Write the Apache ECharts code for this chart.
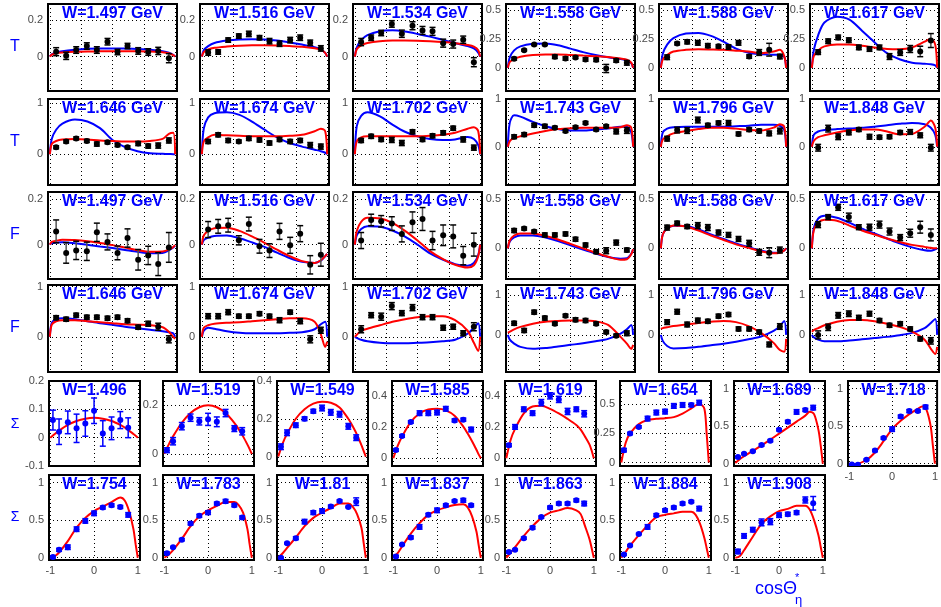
<!DOCTYPE html>
<html><head><meta charset="utf-8">
<script src="https://cdn.jsdelivr.net/npm/echarts@6/dist/echarts.min.js"></script>
<style>html,body{margin:0;padding:0;background:#fff}#c{width:941px;height:607px}</style>
</head><body><div id="c"></div>
<script>
// ---------------- DATA ----------------
const tfX = [-0.9,-0.74,-0.58,-0.41,-0.25,-0.08,0.08,0.24,0.41,0.57,0.73,0.9];
const tfCurveX = [-1,-0.97,-0.9,-0.8,-0.6,-0.4,-0.2,0,0.2,0.4,0.6,0.8,0.9,0.97,1];
const sigX = [-0.94,-0.8,-0.6,-0.4,-0.2,0,0.2,0.4,0.6,0.78];
const sigCurveX = [-1,-0.9,-0.8,-0.6,-0.4,-0.2,0,0.2,0.4,0.6,0.7,0.8,0.9,0.95,1];
const tfTickX = [-1,-0.5,0,0.5,1];
const sigTickX = [-1,0,1];
const rowNames = ['T','T','F','F','Σ','Σ'];
const wRowA = ['1.497','1.516','1.534','1.558','1.588','1.617'];
const wRowB = ['1.646','1.674','1.702','1.743','1.796','1.848'];
const sigW = ['1.496','1.519','1.549','1.585','1.619','1.654','1.689','1.718','1.754','1.783','1.81','1.837','1.863','1.884','1.908'];

// T, row 1
const T1497_pts = [0.027,0.004,0.036,0.058,0.036,0.082,0.025,0.058,0.031,0.025,0.031,-0.009];
const T1497_err = [0.022,0.02,0.018,0.018,0.018,0.018,0.015,0.015,0.018,0.018,0.02,0.025];
const T1497_blue = [0,0.012,0.022,0.03,0.038,0.043,0.045,0.045,0.044,0.042,0.038,0.03,0.022,0.01,0];
const T1497_red = [0,0.01,0.018,0.022,0.026,0.028,0.029,0.03,0.03,0.03,0.028,0.024,0.018,0.008,0];
const T1516_pts = [0.022,0.025,0.091,0.113,0.125,0.104,0.085,0.071,0.091,0.104,0.076,0.045];
const T1516_err = [0.015,0.012,0.012,0.012,0.015,0.012,0.015,0.015,0.015,0.015,0.015,0.015];
const T1516_blue = [0,0.035,0.058,0.075,0.088,0.094,0.096,0.094,0.088,0.078,0.066,0.052,0.04,0.02,0];
const T1516_red = [0,0.025,0.04,0.048,0.055,0.06,0.062,0.062,0.061,0.058,0.054,0.046,0.038,0.02,0];
const T1534_pts = [0.08,0.104,0.13,0.18,0.126,0.17,0.144,0.139,0.074,0.069,0.093,-0.031];
const T1534_err = [0.02,0.015,0.015,0.018,0.02,0.022,0.022,0.022,0.022,0.022,0.02,0.025];
const T1534_blue = [0,0.05,0.09,0.118,0.14,0.145,0.138,0.125,0.11,0.092,0.075,0.058,0.045,0.022,0];
const T1534_red = [0,0.04,0.062,0.075,0.085,0.088,0.088,0.087,0.084,0.08,0.074,0.064,0.055,0.035,0];
const T1558_pts = [0.078,0.152,0.2,0.2,0.095,0.08,0.089,0.072,0.069,-0.006,0.063,0.043];
const T1558_err = [0.012,0.008,0.008,0.008,0.015,0.015,0.01,0.015,0.015,0.035,0.015,0.02];
const T1558_blue = [0,0.09,0.15,0.185,0.207,0.21,0.195,0.165,0.135,0.11,0.09,0.075,0.065,0.04,0];
const T1558_red = [0,0.05,0.075,0.095,0.11,0.115,0.115,0.11,0.105,0.1,0.093,0.08,0.07,0.045,0];
const T1588_pts = [0.091,0.209,0.224,0.215,0.191,0.185,0.179,0.215,0.097,0.132,0.156,0.097];
const T1588_err = [0.02,0.012,0.018,0.02,0.018,0.015,0.02,0.02,0.015,0.025,0.055,0.02];
const T1588_blue = [0,0.12,0.2,0.255,0.295,0.3,0.275,0.225,0.165,0.13,0.118,0.112,0.11,0.095,0];
const T1588_red = [0,0.07,0.11,0.14,0.155,0.16,0.158,0.155,0.148,0.14,0.125,0.14,0.155,0.1,0];
const T1617_pts = [0.135,0.229,0.262,0.238,0.176,0.162,0.176,0.097,0.132,0.162,0.141,0.235];
const T1617_err = [0.02,0.02,0.02,0.02,0.02,0.02,0.02,0.025,0.025,0.03,0.045,0.06];
const T1617_blue = [0,0.15,0.28,0.39,0.44,0.415,0.32,0.22,0.126,0.074,0.044,0.035,0.03,0.02,0];
const T1617_red = [0,0.1,0.15,0.185,0.2,0.2,0.19,0.175,0.163,0.16,0.175,0.225,0.25,0.2,0];
// T, row 2
const T1646_pts = [0.137,0.25,0.31,0.26,0.2,0.235,0.18,0.137,0.21,0.16,0.17,0.27];
const T1646_err = [0.03,0.03,0.03,0.03,0.04,0.03,0.03,0.03,0.04,0.04,0.05,0.05];
const T1646_blue = [0,0.3,0.48,0.6,0.68,0.64,0.51,0.28,0.14,0.06,0.02,0.01,0.005,0.003,0];
const T1646_red = [0,0.2,0.26,0.29,0.3,0.29,0.27,0.26,0.25,0.25,0.26,0.3,0.4,0.42,0];
const T1674_pts = [0.25,0.38,0.27,0.25,0.31,0.28,0.22,0.29,0.25,0.27,0.18,0.15];
const T1674_err = [0.04,0.04,0.04,0.03,0.04,0.04,0.04,0.04,0.04,0.04,0.05,0.05];
const T1674_blue = [0,0.5,0.72,0.8,0.82,0.77,0.64,0.48,0.33,0.22,0.15,0.09,0.06,0.03,0];
const T1674_red = [0,0.25,0.33,0.38,0.37,0.36,0.35,0.35,0.35,0.36,0.38,0.45,0.5,0.45,0];
const T1702_pts = [0.27,0.35,0.29,0.28,0.22,0.44,0.29,0.36,0.42,0.51,0.29,0.13];
const T1702_err = [0.04,0.04,0.04,0.05,0.05,0.04,0.04,0.04,0.04,0.04,0.05,0.05];
const T1702_blue = [0,0.55,0.75,0.82,0.74,0.58,0.44,0.35,0.3,0.28,0.29,0.34,0.3,0.18,0];
const T1702_red = [0,0.25,0.33,0.35,0.35,0.35,0.35,0.35,0.36,0.38,0.42,0.5,0.53,0.45,0];
const T1743_pts = [0.21,0.255,0.45,0.43,0.4,0.33,0.41,0.5,0.36,0.43,0.32,0.34];
const T1743_err = [0.04,0.04,0.04,0.04,0.03,0.03,0.03,0.03,0.03,0.03,0.05,0.06];
const T1743_blue = [0,0.5,0.66,0.63,0.52,0.43,0.37,0.34,0.34,0.36,0.38,0.42,0.42,0.3,0];
const T1743_red = [0,0.12,0.18,0.22,0.28,0.33,0.37,0.39,0.4,0.4,0.4,0.41,0.45,0.4,0];
const T1796_pts = [0.17,0.35,0.34,0.56,0.45,0.5,0.5,0.27,0.36,0.33,0.28,0.33];
const T1796_err = [0.05,0.06,0.06,0.06,0.04,0.04,0.05,0.04,0.04,0.04,0.05,0.06];
const T1796_blue = [0,0.3,0.38,0.41,0.42,0.42,0.42,0.42,0.43,0.44,0.46,0.46,0.44,0.35,0];
const T1796_red = [0,0.15,0.22,0.28,0.33,0.37,0.4,0.4,0.38,0.35,0.34,0.4,0.47,0.42,0];
const T1848_pts = [-0.02,0.38,0.21,0.3,0.36,0.21,0.2,0.21,0.3,0.31,0.24,-0.02];
const T1848_err = [0.07,0.07,0.06,0.05,0.04,0.05,0.04,0.04,0.04,0.05,0.05,0.07];
const T1848_blue = [0,0.25,0.32,0.35,0.37,0.38,0.4,0.42,0.45,0.48,0.5,0.47,0.4,0.25,0];
const T1848_red = [0,0.12,0.2,0.24,0.3,0.34,0.36,0.36,0.32,0.26,0.27,0.42,0.55,0.4,0];
// F, row 3
const F1497_pts = [0.058,-0.036,-0.025,-0.029,0.054,0.012,-0.036,0.029,-0.066,-0.047,-0.085,-0.012];
const F1497_err = [0.05,0.045,0.04,0.04,0.04,0.035,0.03,0.04,0.045,0.04,0.05,0.065];
const F1497_blue = [0,0.007,0.009,0.01,0.006,0,-0.008,-0.015,-0.023,-0.031,-0.037,-0.036,-0.025,-0.012,-0.005];
const F1497_red = [0,0.012,0.017,0.021,0.02,0.015,0.007,-0.002,-0.013,-0.024,-0.031,-0.03,-0.022,-0.01,-0.003];
const F1516_pts = [0.066,0.08,0.085,0.019,0.09,-0.007,-0.026,0.058,-0.003,0.048,-0.088,-0.044];
const F1516_err = [0.035,0.03,0.03,0.02,0.03,0.03,0.03,0.035,0.035,0.035,0.04,0.05];
const F1516_blue = [0,0.02,0.03,0.038,0.04,0.028,0.01,-0.01,-0.035,-0.058,-0.075,-0.08,-0.07,-0.05,-0.04];
const F1516_red = [0,0.04,0.06,0.072,0.074,0.06,0.036,0.008,-0.022,-0.05,-0.072,-0.08,-0.068,-0.05,-0.04];
const F1534_pts = [0.018,0.108,0.102,0.092,0.047,0.098,0.112,0.018,0.041,0.036,-0.048,0];
const F1534_err = [0.035,0.025,0.025,0.03,0.035,0.045,0.05,0.04,0.045,0.05,0.04,0.05];
const F1534_blue = [0,0.04,0.068,0.08,0.078,0.062,0.035,0,-0.038,-0.065,-0.085,-0.092,-0.08,-0.045,0];
const F1534_red = [0,0.06,0.1,0.118,0.115,0.095,0.06,0.018,-0.028,-0.062,-0.088,-0.1,-0.09,-0.05,0];
const F1558_pts = [0.18,0.2,0.17,0.136,0.136,0.146,0.092,0.034,-0.034,-0.024,0.058,-0.017];
const F1558_err = [0.02,0.015,0.015,0.02,0.02,0.02,0.02,0.02,0.02,0.03,0.025,0.02];
const F1558_blue = [0,0.07,0.11,0.13,0.13,0.11,0.075,0.03,-0.012,-0.052,-0.088,-0.105,-0.1,-0.055,-0.01];
const F1558_red = [0,0.08,0.13,0.15,0.15,0.125,0.09,0.045,0,-0.045,-0.085,-0.115,-0.11,-0.06,-0.01];
const F1588_pts = [0.21,0.255,0.22,0.23,0.21,0.16,0.136,0.095,0.051,-0.04,-0.044,-0.017];
const F1588_err = [0.025,0.02,0.02,0.03,0.03,0.025,0.025,0.025,0.03,0.03,0.05,0.03];
const F1588_blue = [0,0.14,0.2,0.228,0.225,0.19,0.14,0.095,0.05,0.012,-0.025,-0.045,-0.042,-0.02,0];
const F1588_red = [0,0.14,0.2,0.23,0.22,0.18,0.13,0.085,0.04,0.005,-0.03,-0.05,-0.045,-0.02,0];
const F1617_pts = [0.24,0.316,0.415,0.316,0.214,0.214,0.24,0.17,0.109,0.153,0.214,0.136];
const F1617_err = [0.03,0.025,0.03,0.04,0.025,0.03,0.035,0.035,0.03,0.04,0.06,0.06];
const F1617_blue = [0,0.2,0.3,0.33,0.31,0.26,0.2,0.15,0.1,0.05,0.01,-0.02,-0.025,-0.01,0];
const F1617_red = [0,0.18,0.26,0.29,0.28,0.23,0.18,0.14,0.1,0.065,0.035,0.015,0.005,0,0];
// F, row 4
const F1646_pts = [0.38,0.35,0.43,0.39,0.39,0.37,0.39,0.32,0.19,0.26,0.2,-0.05];
const F1646_err = [0.04,0.04,0.04,0.04,0.04,0.04,0.04,0.04,0.04,0.05,0.07,0.07];
const F1646_blue = [0,0.28,0.35,0.37,0.35,0.31,0.27,0.24,0.2,0.17,0.14,0.11,0.09,0.07,0];
const F1646_red = [0,0.24,0.31,0.33,0.33,0.31,0.29,0.27,0.25,0.24,0.23,0.19,0.1,0,-0.04];
const F1674_pts = [0.41,0.41,0.49,0.41,0.41,0.46,0.41,0.33,0.49,0.31,-0.05,0.13];
const F1674_err = [0.05,0.05,0.05,0.04,0.04,0.04,0.04,0.05,0.04,0.05,0.07,0.06];
const F1674_blue = [0,0.12,0.18,0.16,0.11,0.08,0.07,0.07,0.07,0.08,0.09,0.15,0.25,0.3,0];
const F1674_red = [0,0.18,0.23,0.26,0.28,0.29,0.31,0.33,0.35,0.37,0.37,0.3,0.05,-0.2,-0.1];
const F1702_pts = [0.15,0.43,0.4,0.61,0.47,0.58,0.39,0.39,0.18,0.2,0.07,0.2];
const F1702_err = [0.07,0.05,0.07,0.07,0.05,0.06,0.05,0.05,0.05,0.05,0.05,0.08];
const F1702_blue = [0,-0.02,-0.06,-0.09,-0.12,-0.13,-0.13,-0.12,-0.11,-0.09,-0.06,0.06,0.18,0.27,0];
const F1702_red = [0,0.04,0.12,0.16,0.23,0.3,0.35,0.39,0.41,0.41,0.33,0.12,-0.12,-0.28,0];
const F1743_pts = [0.29,0.11,0.57,0.42,0.28,0.48,0.38,0.36,0.28,0.07,-0.02,0.04];
const F1743_err = [0.05,0.05,0.05,0.05,0.04,0.04,0.05,0.05,0.04,0.04,0.04,0.06];
const F1743_blue = [0,-0.12,-0.22,-0.3,-0.35,-0.33,-0.29,-0.25,-0.21,-0.16,-0.1,0.03,0.14,0.25,0];
const F1743_red = [0.05,0.08,0.14,0.2,0.28,0.33,0.35,0.36,0.36,0.34,0.25,-0.05,-0.22,-0.35,-0.25];
const F1796_pts = [0.32,0.58,0.26,0.36,0.34,0.47,0.51,0.15,0.15,0.07,-0.24,0.21];
const F1796_err = [0.06,0.06,0.06,0.06,0.05,0.05,0.05,0.05,0.05,0.05,0.06,0.07];
const F1796_blue = [0,-0.15,-0.28,-0.34,-0.33,-0.3,-0.26,-0.22,-0.17,-0.11,-0.04,0.1,0.22,0.35,0];
const F1796_red = [0.15,0.17,0.19,0.22,0.26,0.3,0.33,0.35,0.32,0.22,0.05,-0.2,-0.38,-0.42,-0.1];
const F1848_pts = [0,0.19,0.49,0.53,0.43,0.53,0.36,0.24,0.28,0.15,-0.1,-0.15];
const F1848_err = [0.1,0.08,0.07,0.07,0.06,0.06,0.05,0.05,0.05,0.05,0.05,0.08];
const F1848_blue = [0,-0.06,-0.12,-0.16,-0.16,-0.14,-0.11,-0.08,-0.05,-0.01,0.05,0.17,0.3,0.4,0];
const F1848_red = [0.08,0.12,0.17,0.24,0.33,0.37,0.37,0.34,0.28,0.2,0.08,-0.12,-0.35,-0.48,-0.3];
// Sigma
const S1496_pts = [0.062,0.021,0.054,0.033,0.05,0.095,0.015,0.033,0.062,0.035];
const S1496_err = [0.035,0.045,0.04,0.05,0.045,0.045,0.045,0.04,0.03,0.035];
const S1496_red = [0,0.013,0.025,0.045,0.059,0.067,0.07,0.067,0.059,0.045,0.036,0.025,0.013,0.007,0];
const S1519_pts = [0.015,0.052,0.114,0.149,0.134,0.142,0.132,0.168,0.104,0.093];
const S1519_err = [0.01,0.015,0.015,0.015,0.015,0.025,0.02,0.015,0.012,0.015];
const S1519_red = [0,0.038,0.072,0.128,0.168,0.192,0.2,0.192,0.168,0.128,0.102,0.072,0.038,0.0195,0];
const S1549_pts = [0.052,0.126,0.166,0.2,0.24,0.257,0.234,0.224,0.16,0.1];
const S1549_err = [0.015,0.015,0.012,0.01,0.01,0.015,0.015,0.015,0.015,0.015];
const S1549_red = [0,0.07,0.12,0.2,0.25,0.28,0.29,0.285,0.26,0.2,0.16,0.115,0.06,0.03,0];
const S1585_pts = [0.053,0.144,0.235,0.292,0.292,0.296,0.32,0.245,0.25,0.186];
const S1585_err = [0.008,0.008,0.008,0.015,0.015,0.015,0.015,0.01,0.01,0.015];
const S1585_red = [0,0.08,0.14,0.235,0.29,0.315,0.32,0.31,0.275,0.205,0.16,0.11,0.055,0.025,0];
const S1619_pts = [0.085,0.203,0.317,0.292,0.36,0.404,0.381,0.303,0.317,0.288];
const S1619_err = [0.01,0.015,0.015,0.015,0.02,0.02,0.02,0.02,0.015,0.02];
const S1619_red = [0,0.12,0.19,0.29,0.335,0.34,0.32,0.29,0.255,0.215,0.185,0.14,0.09,0.05,0];
const S1654_pts = [0.106,0.249,0.306,0.377,0.429,0.437,0.486,0.494,0.494,0.514];
const S1654_err = [0.015,0.01,0.01,0.02,0.02,0.02,0.02,0.02,0.015,0.02];
const S1654_red = [0,0.17,0.25,0.33,0.365,0.375,0.38,0.39,0.42,0.465,0.49,0.5,0.46,0.25,0];
const S1689_pts = [0.088,0.132,0.167,0.25,0.307,0.452,0.557,0.689,0.715,0.746];
const S1689_err = [0.01,0.01,0.01,0.015,0.015,0.015,0.02,0.03,0.02,0.03];
const S1689_red = [0.01,0.06,0.1,0.17,0.245,0.32,0.4,0.48,0.56,0.64,0.69,0.66,0.45,0.25,0];
const S1718_pts = [-0.01,-0.013,0.053,0.175,0.342,0.46,0.627,0.7,0.7,0.754];
const S1718_err = [0.01,0.01,0.01,0.015,0.015,0.03,0.02,0.02,0.015,0.025];
const S1718_red = [0,-0.01,0,0.05,0.15,0.3,0.46,0.57,0.66,0.73,0.76,0.72,0.5,0.25,0];
const S1754_pts = [0.01,0.105,0.14,0.38,0.49,0.59,0.667,0.697,0.675,0.57];
const S1754_err = [0.015,0.02,0.03,0.03,0.03,0.03,0.02,0.02,0.02,0.03];
const S1754_red = [0,0.02,0.07,0.22,0.4,0.53,0.62,0.68,0.74,0.8,0.76,0.62,0.38,0.18,0];
const S1783_pts = [0.061,0.14,0.24,0.456,0.557,0.6,0.72,0.75,0.697,0.535];
const S1783_err = [0.015,0.01,0.015,0.02,0.02,0.025,0.02,0.025,0.02,0.02];
const S1783_red = [0,0.04,0.1,0.25,0.42,0.55,0.63,0.69,0.74,0.74,0.7,0.6,0.38,0.18,0];
const S1810_pts = [0,0.193,0.26,0.48,0.6,0.62,0.68,0.754,0.675,0.746];
const S1810_err = [0.01,0.01,0.02,0.03,0.025,0.03,0.02,0.015,0.01,0.05];
const S1810_red = [0,0.06,0.13,0.27,0.42,0.53,0.6,0.66,0.72,0.72,0.68,0.58,0.4,0.2,0];
const S1837_pts = [0.018,0.175,0.27,0.41,0.57,0.63,0.697,0.754,0.763,0.697];
const S1837_err = [0.015,0.01,0.02,0.03,0.02,0.03,0.02,0.015,0.025,0.02];
const S1837_red = [0,0.06,0.15,0.32,0.46,0.57,0.63,0.67,0.7,0.71,0.67,0.55,0.35,0.17,0];
const S1863_pts = [0.075,0.105,0.26,0.4,0.54,0.667,0.72,0.72,0.763,0.72];
const S1863_err = [0.015,0.01,0.015,0.02,0.015,0.02,0.02,0.02,0.02,0.03];
const S1863_red = [0,0.07,0.14,0.29,0.42,0.53,0.6,0.63,0.66,0.63,0.58,0.42,0.25,0.13,0];
const S1884_pts = [0.044,0.162,0.316,0.41,0.566,0.63,0.667,0.72,0.746,0.653];
const S1884_err = [0.01,0.01,0.01,0.03,0.02,0.02,0.02,0.02,0.015,0.03];
const S1884_red = [0,0.08,0.16,0.3,0.43,0.54,0.57,0.59,0.61,0.61,0.57,0.45,0.26,0.13,0];
const S1908_pts = [0.083,0.29,0.373,0.47,0.48,0.566,0.579,0.6,0.768,0.724];
const S1908_err = [0.03,0.03,0.03,0.045,0.04,0.03,0.025,0.025,0.04,0.09];
const S1908_red = [0,0.02,0.1,0.28,0.45,0.55,0.62,0.65,0.69,0.69,0.64,0.5,0.3,0.15,0];

// ---------------- LAYOUT ----------------
const tfPanels = [
  [[T1497_pts,T1497_err,T1497_blue,T1497_red],[T1516_pts,T1516_err,T1516_blue,T1516_red],[T1534_pts,T1534_err,T1534_blue,T1534_red],
   [T1558_pts,T1558_err,T1558_blue,T1558_red],[T1588_pts,T1588_err,T1588_blue,T1588_red],[T1617_pts,T1617_err,T1617_blue,T1617_red]],
  [[T1646_pts,T1646_err,T1646_blue,T1646_red],[T1674_pts,T1674_err,T1674_blue,T1674_red],[T1702_pts,T1702_err,T1702_blue,T1702_red],
   [T1743_pts,T1743_err,T1743_blue,T1743_red],[T1796_pts,T1796_err,T1796_blue,T1796_red],[T1848_pts,T1848_err,T1848_blue,T1848_red]],
  [[F1497_pts,F1497_err,F1497_blue,F1497_red],[F1516_pts,F1516_err,F1516_blue,F1516_red],[F1534_pts,F1534_err,F1534_blue,F1534_red],
   [F1558_pts,F1558_err,F1558_blue,F1558_red],[F1588_pts,F1588_err,F1588_blue,F1588_red],[F1617_pts,F1617_err,F1617_blue,F1617_red]],
  [[F1646_pts,F1646_err,F1646_blue,F1646_red],[F1674_pts,F1674_err,F1674_blue,F1674_red],[F1702_pts,F1702_err,F1702_blue,F1702_red],
   [F1743_pts,F1743_err,F1743_blue,F1743_red],[F1796_pts,F1796_err,F1796_blue,F1796_red],[F1848_pts,F1848_err,F1848_blue,F1848_red]]
];
const tfW = [wRowA, wRowB, wRowA, wRowB];
const tfRanges = [
  [[-0.19,0.29],[-0.19,0.29],[-0.19,0.29],[-0.2,0.55],[-0.2,0.55],[-0.2,0.55]],
  [[-0.6,1.08],[-0.6,1.08],[-0.6,1.08],[-0.8,1.0],[-0.8,1.0],[-0.8,1.0]],
  [[-0.15,0.23],[-0.15,0.23],[-0.15,0.23],[-0.31,0.57],[-0.31,0.57],[-0.31,0.57]],
  [[-0.7,1.03],[-0.7,1.03],[-0.7,1.03],[-0.93,1.25],[-0.93,1.25],[-0.93,1.25]]
];
const tfTicks = [
  [[0,0.2],[0,0.2],[0,0.2],[0,0.25,0.5],[0,0.25,0.5],[0,0.25,0.5]],
  [[0,1],[0,1],[0,1],[0,1],[0,1],[0,1]],
  [[0,0.2],[0,0.2],[0,0.2],[0,0.5],[0,0.5],[0,0.5]],
  [[0,1],[0,1],[0,1],[0,1],[0,1],[0,1]]
];
const sigPanels = [
  [S1496_pts,S1496_err,S1496_red],[S1519_pts,S1519_err,S1519_red],[S1549_pts,S1549_err,S1549_red],[S1585_pts,S1585_err,S1585_red],
  [S1619_pts,S1619_err,S1619_red],[S1654_pts,S1654_err,S1654_red],[S1689_pts,S1689_err,S1689_red],[S1718_pts,S1718_err,S1718_red],
  [S1754_pts,S1754_err,S1754_red],[S1783_pts,S1783_err,S1783_red],[S1810_pts,S1810_err,S1810_red],[S1837_pts,S1837_err,S1837_red],
  [S1863_pts,S1863_err,S1863_red],[S1884_pts,S1884_err,S1884_red],[S1908_pts,S1908_err,S1908_red]
];
const sigRanges = [[-0.1,0.2],[-0.05,0.3],[-0.05,0.4],[-0.05,0.5],[-0.05,0.5],[-0.03,0.7],[-0.03,1.1],[-0.03,1.1],
  [-0.03,1.1],[-0.03,1.1],[-0.03,1.1],[-0.03,1.1],[-0.03,1.1],[-0.03,1.1],[-0.03,1.1]];
const sigTicks = [[-0.1,0,0.1,0.2],[0,0.2],[0,0.2,0.4],[0,0.2,0.4],[0,0.2,0.4],[0,0.25,0.5],[0,0.5,1],[0,0.5,1],
  [0,0.5,1],[0,0.5,1],[0,0.5,1],[0,0.5,1],[0,0.5,1],[0,0.5,1],[0,0.5,1]];

const tfLeft = [48,200,353,506,659,810], tfTop = [4,99,192,285], tfWd = 129, tfHt = [87,86,87,87];
const sgLeft = [49,163,277,392,505,620,734,848], sgTop = [381,475], sgWd = 91, sgHt = 85;

const FONT = '"Liberation Sans", Arial, Helvetica, sans-serif';
const BLUE = '#0000ff', RED = '#ff0000';
const grids = [], xAxes = [], yAxes = [], series = [], graphics = [];

function errRender(ptColor, barColor, capColor) {
  return function (params, api) {
    const x = api.value(0), y = api.value(1), e = api.value(2);
    const c = api.coord([x, y]);
    const t = api.coord([x, y + e]);
    const b = api.coord([x, y - e]);
    return { type: 'group', children: [
      { type: 'line', shape: { x1: c[0], y1: t[1], x2: c[0], y2: b[1] }, style: { stroke: barColor, lineWidth: 1.5 } },
      { type: 'line', shape: { x1: c[0] - 3, y1: t[1], x2: c[0] + 3, y2: t[1] }, style: { stroke: capColor, lineWidth: 1.5 } },
      { type: 'line', shape: { x1: c[0] - 3, y1: b[1], x2: c[0] + 3, y2: b[1] }, style: { stroke: capColor, lineWidth: 1.5 } },
      { type: 'circle', shape: { cx: c[0], cy: c[1], r: 3 }, style: { fill: ptColor } }
    ]};
  };
}

function addPanel(o) {
  const i = grids.length;
  grids.push({ left: o.left, top: o.top, width: o.width, height: o.height, show: true,
    borderColor: '#000', borderWidth: 2, backgroundColor: 'rgba(0,0,0,0)' });
  const split = { show: true, lineStyle: { color: '#000', width: 1, type: [1, 3] } };
  xAxes.push({ type: 'value', gridIndex: i, min: o.xr[0], max: o.xr[1],
    axisLine: { show: false }, axisTick: { show: false, customValues: o.xt },
    axisLabel: { show: !!o.showX, customValues: o.xt, color: '#4a4a4a', fontSize: 11, fontFamily: FONT, margin: 5 },
    splitLine: split });
  yAxes.push({ type: 'value', gridIndex: i, min: o.yr[0], max: o.yr[1],
    axisLine: { show: false }, axisTick: { show: false, customValues: o.yt },
    axisLabel: { show: true, customValues: o.yt, color: '#4a4a4a', fontSize: 11, fontFamily: FONT, margin: 5 },
    splitLine: split });
  o.curves.forEach(cv => {
    series.push({ type: 'line', xAxisIndex: i, yAxisIndex: i, data: cv.x.map((x, k) => [x, cv.y[k]]),
      showSymbol: false, smooth: 0.3, lineStyle: { color: cv.color, width: 2 }, silent: true, animation: false, z: 3 });
  });
  series.push({ type: 'custom', xAxisIndex: i, yAxisIndex: i, clip: true, animation: false, silent: true, z: 4,
    data: o.xs.map((x, k) => [x, o.pts[k], o.err[k]]),
    encode: { x: 0, y: 1 },
    renderItem: errRender(o.ptColor, o.barColor, o.capColor) });
  graphics.push({ type: 'text', x: o.left + o.width / 2, y: o.top + 10, z: 100,
    style: { text: o.title, fill: BLUE, font: 'bold 16px ' + FONT, textAlign: 'center', textVerticalAlign: 'middle',
      align: 'center', verticalAlign: 'middle' } });
}

for (let r = 0; r < 4; r++) {
  for (let c = 0; c < 6; c++) {
    const p = tfPanels[r][c];
    addPanel({ left: tfLeft[c], top: tfTop[r], width: tfWd, height: tfHt[r],
      xr: [-1.03, 1.03], xt: tfTickX, yr: tfRanges[r][c], yt: tfTicks[r][c],
      title: 'W=' + tfW[r][c] + ' GeV', xs: tfX, pts: p[0], err: p[1],
      ptColor: '#000', barColor: '#555', capColor: '#000',
      curves: [{ x: tfCurveX, y: p[2], color: BLUE }, { x: tfCurveX, y: p[3], color: RED }] });
  }
}
for (let k = 0; k < 15; k++) {
  const r = k < 8 ? 0 : 1, c = k < 8 ? k : k - 8;
  const p = sigPanels[k];
  addPanel({ left: sgLeft[c], top: sgTop[r], width: sgWd, height: sgHt,
    xr: [-1.03, 1.05], xt: sigTickX, showX: (r === 1 || k === 7), yr: sigRanges[k], yt: sigTicks[k],
    title: 'W=' + sigW[k], xs: sigX, pts: p[0], err: p[1],
    ptColor: BLUE, barColor: BLUE, capColor: BLUE,
    curves: [{ x: sigCurveX, y: p[2], color: RED }] });
}

const rowLabelY = [47, 142, 235, 328, 424, 517];
rowNames.forEach((n, i) => {
  graphics.push({ type: 'text', x: 15, y: rowLabelY[i], z: 100,
    style: { text: n, fill: BLUE, font: (n === 'Σ' ? '14px ' : '16px ') + FONT, textAlign: 'center', textVerticalAlign: 'middle', align: 'center', verticalAlign: 'middle' } });
});
graphics.push({ type: 'text', x: 755, y: 598, z: 100, style: { text: 'cosΘ', fill: BLUE, font: '18px ' + FONT, textAlign: 'left', textVerticalAlign: 'bottom', align: 'left', verticalAlign: 'bottom' } });
graphics.push({ type: 'text', x: 795, y: 578, z: 100, style: { text: '*', fill: BLUE, font: '11px ' + FONT, textAlign: 'left', textVerticalAlign: 'middle', align: 'left', verticalAlign: 'middle' } });
graphics.push({ type: 'text', x: 795, y: 600, z: 100, style: { text: 'η', fill: BLUE, font: '13px ' + FONT, textAlign: 'left', textVerticalAlign: 'middle', align: 'left', verticalAlign: 'middle' } });

const chart = echarts.init(document.getElementById('c'));
chart.setOption({ animation: false, backgroundColor: '#fff', grid: grids, xAxis: xAxes, yAxis: yAxes, series: series, graphic: graphics });
</script></body></html>
